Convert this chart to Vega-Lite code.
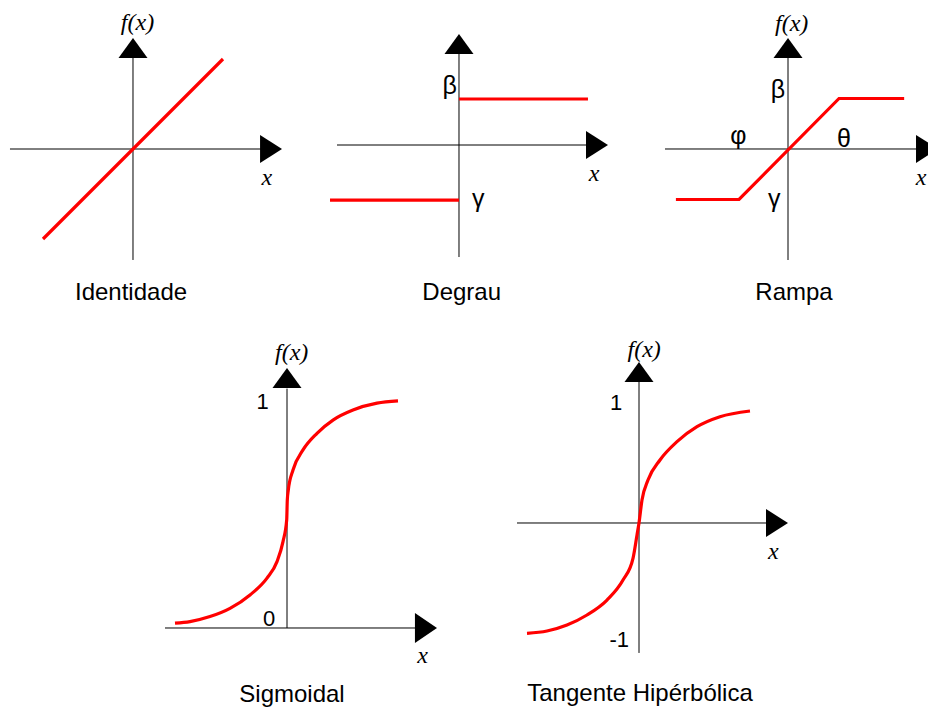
{
  "$schema": "https://vega.github.io/schema/vega-lite/v6.json",
  "background": "white",
  "padding": 0,
  "spacing": 0,
  "bounds": "full",
  "config": {"view": {"stroke": null}},
  "resolve": {"scale": {"x": "independent", "y": "independent"}},
  "datasets": {
    "identidade": [
      {"parte": "eixo", "x": -1.367, "y": 0, "x2": 1.5, "y2": 0},
      {"parte": "eixo", "x": 0, "y": -1.233, "x2": 0, "y2": 1.1},
      {"parte": "seta_x", "x": 1.656, "y": 0},
      {"parte": "seta_y", "x": 0, "y": 1.233},
      {"parte": "curva", "x": -1, "y": -1},
      {"parte": "curva", "x": 1, "y": 1},
      {"parte": "var", "texto": "f(x)", "x": 0.05, "y": 1.399},
      {"parte": "var", "texto": "x", "x": 1.486, "y": -0.32},
      {"parte": "titulo", "texto": "Identidade", "x": -0.022, "y": -1.598}
    ],
    "degrau": [
      {"parte": "eixo", "x": -2.652, "y": 0, "x2": 3.0, "y2": 0},
      {"parte": "eixo", "x": 0, "y": -2.435, "x2": 0, "y2": 2.2},
      {"parte": "seta_x", "x": 3.239, "y": 0},
      {"parte": "seta_y", "x": 0, "y": 2.413},
      {"parte": "degrau", "x": -2.804, "y": -1.2, "x2": 0, "y2": -1.2},
      {"parte": "degrau", "x": 0, "y": 1, "x2": 2.804, "y2": 1},
      {"parte": "var", "texto": "x", "x": 2.935, "y": -0.641},
      {"parte": "simbolo", "texto": "β", "x": -0.2, "y": 1.287},
      {"parte": "simbolo", "texto": "γ", "x": 0.42, "y": -1.18},
      {"parte": "titulo", "texto": "Degrau", "x": 0.058, "y": -3.213}
    ],
    "rampa": [
      {"parte": "eixo", "x": -2.436, "y": 0, "x2": 2.8, "y2": 0},
      {"parte": "eixo", "x": 0, "y": -2.198, "x2": 0, "y2": 2.0},
      {"parte": "seta_x", "x": 2.97, "y": 0},
      {"parte": "seta_y", "x": 0, "y": 2.198},
      {"parte": "curva", "x": -2.22, "y": -1},
      {"parte": "curva", "x": -0.97, "y": -1},
      {"parte": "curva", "x": 1.01, "y": 1},
      {"parte": "curva", "x": 2.3, "y": 1},
      {"parte": "var", "texto": "f(x)", "x": 0.073, "y": 2.473},
      {"parte": "var", "texto": "x", "x": 2.634, "y": -0.57},
      {"parte": "simbolo", "texto": "β", "x": -0.202, "y": 1.162},
      {"parte": "simbolo", "texto": "φ", "x": -0.984, "y": 0.261},
      {"parte": "simbolo", "texto": "θ", "x": 1.109, "y": 0.188},
      {"parte": "simbolo", "texto": "γ", "x": -0.273, "y": -0.982},
      {"parte": "titulo", "texto": "Rampa", "x": 0.119, "y": -2.848}
    ],
    "sigmoidal": [
      {"parte": "eixo", "x": -1.22, "y": 0, "x2": 1.4, "y2": 0},
      {"parte": "eixo", "x": 0, "y": 0, "x2": 0, "y2": 1.05},
      {"parte": "seta_x", "x": 1.5, "y": 0},
      {"parte": "seta_y", "x": 0, "y": 1.14},
      {"parte": "curva", "x": -1.12, "y": 0.021},
      {"parte": "curva", "x": -0.97, "y": 0.028},
      {"parte": "curva", "x": -0.77, "y": 0.05},
      {"parte": "curva", "x": -0.57, "y": 0.086},
      {"parte": "curva", "x": -0.37, "y": 0.145},
      {"parte": "curva", "x": -0.2, "y": 0.219},
      {"parte": "curva", "x": -0.1, "y": 0.291},
      {"parte": "curva", "x": -0.04, "y": 0.379},
      {"parte": "curva", "x": -0.003, "y": 0.474},
      {"parte": "curva", "x": 0.003, "y": 0.561},
      {"parte": "curva", "x": 0.013, "y": 0.605},
      {"parte": "curva", "x": 0.06, "y": 0.693},
      {"parte": "curva", "x": 0.16, "y": 0.781},
      {"parte": "curva", "x": 0.3, "y": 0.854},
      {"parte": "curva", "x": 0.46, "y": 0.912},
      {"parte": "curva", "x": 0.66, "y": 0.956},
      {"parte": "curva", "x": 0.9, "y": 0.986},
      {"parte": "curva", "x": 1.11, "y": 0.996},
      {"parte": "var", "texto": "f(x)", "x": 0.047, "y": 1.206},
      {"parte": "var", "texto": "x", "x": 1.355, "y": -0.123},
      {"parte": "numero", "texto": "1", "x": -0.245, "y": 0.991},
      {"parte": "numero", "texto": "0", "x": -0.178, "y": 0.041},
      {"parte": "titulo", "texto": "Sigmoidal", "x": 0.05, "y": -0.292}
    ],
    "tangente": [
      {"parte": "eixo", "x": -1.22, "y": 0, "x2": 1.4, "y2": 0},
      {"parte": "eixo", "x": 0, "y": -1.13, "x2": 0, "y2": 1.3},
      {"parte": "seta_x", "x": 1.49, "y": 0},
      {"parte": "seta_y", "x": 0, "y": 1.4},
      {"parte": "curva", "x": -1.12, "y": -0.959},
      {"parte": "curva", "x": -0.92, "y": -0.939},
      {"parte": "curva", "x": -0.72, "y": -0.887},
      {"parte": "curva", "x": -0.52, "y": -0.8},
      {"parte": "curva", "x": -0.32, "y": -0.67},
      {"parte": "curva", "x": -0.16, "y": -0.496},
      {"parte": "curva", "x": -0.06, "y": -0.307},
      {"parte": "curva", "x": -0.02, "y": -0.104},
      {"parte": "curva", "x": 0, "y": 0},
      {"parte": "curva", "x": 0.03, "y": 0.2},
      {"parte": "curva", "x": 0.09, "y": 0.374},
      {"parte": "curva", "x": 0.21, "y": 0.548},
      {"parte": "curva", "x": 0.38, "y": 0.707},
      {"parte": "curva", "x": 0.58, "y": 0.837},
      {"parte": "curva", "x": 0.81, "y": 0.924},
      {"parte": "curva", "x": 1.11, "y": 0.974},
      {"parte": "var", "texto": "f(x)", "x": 0.052, "y": 1.506},
      {"parte": "var", "texto": "x", "x": 1.343, "y": -0.253},
      {"parte": "numero", "texto": "1", "x": -0.229, "y": 1.046},
      {"parte": "numero", "texto": "-1", "x": -0.198, "y": -1.015},
      {"parte": "titulo", "texto": "Tangente Hipérbólica", "x": 0.01, "y": -1.491}
    ]
  },
  "vconcat": [
    {
      "spacing": 0,
      "bounds": "flush",
      "hconcat": [
        {
          "width": 310,
          "height": 320,
          "data": {"name": "identidade"},
          "encoding": {
            "x": {"field": "x", "type": "quantitative", "scale": {"domain": [-1.4778, 1.9667], "nice": false, "zero": false}, "axis": null},
            "y": {"field": "y", "type": "quantitative", "scale": {"domain": [-1.9, 1.6556], "nice": false, "zero": false}, "axis": null}
          },
          "layer": [
            {"transform": [{"filter": "datum.parte === 'eixo'"}], "mark": {"type": "rule", "color": "black", "strokeWidth": 1}, "encoding": {"x2": {"field": "x2"}, "y2": {"field": "y2"}}},
            {"transform": [{"filter": "datum.parte === 'curva'"}], "mark": {"type": "line", "color": "#ff0000", "strokeWidth": 3.2}},
            {"transform": [{"filter": "datum.parte === 'seta_x'"}], "mark": {"type": "point", "shape": "M 0 0 L -1.57 -1 L -1.57 1 Z", "size": 784, "filled": true, "color": "black", "opacity": 1, "strokeWidth": 0}},
            {"transform": [{"filter": "datum.parte === 'seta_y'"}], "mark": {"type": "point", "shape": "M 0 0 L 1 1.38 L -1 1.38 Z", "size": 841, "filled": true, "color": "black", "opacity": 1, "strokeWidth": 0}},
            {"transform": [{"filter": "datum.parte === 'var'"}], "mark": {"type": "text", "font": "Liberation Serif", "fontStyle": "italic", "fontSize": 24, "align": "center", "baseline": "middle", "color": "black"}, "encoding": {"text": {"field": "texto"}}},
            {"transform": [{"filter": "datum.parte === 'titulo'"}], "mark": {"type": "text", "font": "Liberation Sans", "fontSize": 24, "align": "center", "baseline": "middle", "color": "black"}, "encoding": {"text": {"field": "texto"}}}
          ]
        },
        {
          "width": 330,
          "height": 320,
          "data": {"name": "degrau"},
          "encoding": {
            "x": {"field": "x", "type": "quantitative", "scale": {"domain": [-3.239, 3.935], "nice": false, "zero": false}, "axis": null},
            "y": {"field": "y", "type": "quantitative", "scale": {"domain": [-3.804, 3.152], "nice": false, "zero": false}, "axis": null}
          },
          "layer": [
            {"transform": [{"filter": "datum.parte === 'eixo'"}], "mark": {"type": "rule", "color": "black", "strokeWidth": 1}, "encoding": {"x2": {"field": "x2"}, "y2": {"field": "y2"}}},
            {"transform": [{"filter": "datum.parte === 'degrau'"}], "mark": {"type": "rule", "color": "#ff0000", "strokeWidth": 3.2}, "encoding": {"x2": {"field": "x2"}, "y2": {"field": "y2"}}},
            {"transform": [{"filter": "datum.parte === 'seta_x'"}], "mark": {"type": "point", "shape": "M 0 0 L -1.57 -1 L -1.57 1 Z", "size": 784, "filled": true, "color": "black", "opacity": 1, "strokeWidth": 0}},
            {"transform": [{"filter": "datum.parte === 'seta_y'"}], "mark": {"type": "point", "shape": "M 0 0 L 1 1.38 L -1 1.38 Z", "size": 841, "filled": true, "color": "black", "opacity": 1, "strokeWidth": 0}},
            {"transform": [{"filter": "datum.parte === 'var'"}], "mark": {"type": "text", "font": "Liberation Serif", "fontStyle": "italic", "fontSize": 24, "align": "center", "baseline": "middle", "color": "black"}, "encoding": {"text": {"field": "texto"}}},
            {"transform": [{"filter": "datum.parte === 'simbolo'"}], "mark": {"type": "text", "font": "Liberation Sans", "fontSize": 25, "align": "center", "baseline": "middle", "color": "black"}, "encoding": {"text": {"field": "texto"}}},
            {"transform": [{"filter": "datum.parte === 'titulo'"}], "mark": {"type": "text", "font": "Liberation Sans", "fontSize": 24, "align": "center", "baseline": "middle", "color": "black"}, "encoding": {"text": {"field": "texto"}}}
          ]
        },
        {
          "width": 288,
          "height": 320,
          "data": {"name": "rampa"},
          "encoding": {
            "x": {"field": "x", "type": "quantitative", "scale": {"domain": [-2.931, 2.772], "nice": false, "zero": false}, "axis": null},
            "y": {"field": "y", "type": "quantitative", "scale": {"domain": [-3.386, 2.95], "nice": false, "zero": false}, "axis": null}
          },
          "layer": [
            {"transform": [{"filter": "datum.parte === 'eixo'"}], "mark": {"type": "rule", "color": "black", "strokeWidth": 1, "clip": true}, "encoding": {"x2": {"field": "x2"}, "y2": {"field": "y2"}}},
            {"transform": [{"filter": "datum.parte === 'curva'"}], "mark": {"type": "line", "color": "#ff0000", "strokeWidth": 3.2, "clip": true}},
            {"transform": [{"filter": "datum.parte === 'seta_x'"}], "mark": {"type": "point", "shape": "M 0 0 L -1.57 -1 L -1.57 1 Z", "size": 784, "filled": true, "color": "black", "opacity": 1, "strokeWidth": 0, "clip": true}},
            {"transform": [{"filter": "datum.parte === 'seta_y'"}], "mark": {"type": "point", "shape": "M 0 0 L 1 1.38 L -1 1.38 Z", "size": 841, "filled": true, "color": "black", "opacity": 1, "strokeWidth": 0, "clip": true}},
            {"transform": [{"filter": "datum.parte === 'var'"}], "mark": {"type": "text", "font": "Liberation Serif", "fontStyle": "italic", "fontSize": 24, "align": "center", "baseline": "middle", "color": "black", "clip": true}, "encoding": {"text": {"field": "texto"}}},
            {"transform": [{"filter": "datum.parte === 'simbolo'"}], "mark": {"type": "text", "font": "Liberation Sans", "fontSize": 25, "align": "center", "baseline": "middle", "color": "black", "clip": true}, "encoding": {"text": {"field": "texto"}}},
            {"transform": [{"filter": "datum.parte === 'titulo'"}], "mark": {"type": "text", "font": "Liberation Sans", "fontSize": 24, "align": "center", "baseline": "middle", "color": "black", "clip": true}, "encoding": {"text": {"field": "texto"}}}
          ]
        }
      ]
    },
    {
      "spacing": 0,
      "bounds": "flush",
      "hconcat": [
        {
          "width": 464,
          "height": 389,
          "data": {"name": "sigmoidal"},
          "encoding": {
            "x": {"field": "x", "type": "quantitative", "scale": {"domain": [-2.87, 1.77], "nice": false, "zero": false}, "axis": null},
            "y": {"field": "y", "type": "quantitative", "scale": {"domain": [-0.3553, 1.3509], "nice": false, "zero": false}, "axis": null}
          },
          "layer": [
            {"transform": [{"filter": "datum.parte === 'eixo'"}], "mark": {"type": "rule", "color": "black", "strokeWidth": 1}, "encoding": {"x2": {"field": "x2"}, "y2": {"field": "y2"}}},
            {"transform": [{"filter": "datum.parte === 'curva'"}], "mark": {"type": "line", "color": "#ff0000", "strokeWidth": 3.2, "interpolate": "monotone"}},
            {"transform": [{"filter": "datum.parte === 'seta_x'"}], "mark": {"type": "point", "shape": "M 0 0 L -1.47 -1 L -1.47 1 Z", "size": 900, "filled": true, "color": "black", "opacity": 1, "strokeWidth": 0}},
            {"transform": [{"filter": "datum.parte === 'seta_y'"}], "mark": {"type": "point", "shape": "M 0 0 L 1 1.38 L -1 1.38 Z", "size": 841, "filled": true, "color": "black", "opacity": 1, "strokeWidth": 0}},
            {"transform": [{"filter": "datum.parte === 'var'"}], "mark": {"type": "text", "font": "Liberation Serif", "fontStyle": "italic", "fontSize": 24, "align": "center", "baseline": "middle", "color": "black"}, "encoding": {"text": {"field": "texto"}}},
            {"transform": [{"filter": "datum.parte === 'numero'"}], "mark": {"type": "text", "font": "Liberation Sans", "fontSize": 22, "align": "center", "baseline": "middle", "color": "black"}, "encoding": {"text": {"field": "texto"}}},
            {"transform": [{"filter": "datum.parte === 'titulo'"}], "mark": {"type": "text", "font": "Liberation Sans", "fontSize": 24, "align": "center", "baseline": "middle", "color": "black"}, "encoding": {"text": {"field": "texto"}}}
          ]
        },
        {
          "width": 464,
          "height": 389,
          "data": {"name": "tangente"},
          "encoding": {
            "x": {"field": "x", "type": "quantitative", "scale": {"domain": [-1.75, 2.89], "nice": false, "zero": false}, "axis": null},
            "y": {"field": "y", "type": "quantitative", "scale": {"domain": [-1.6174, 1.7652], "nice": false, "zero": false}, "axis": null}
          },
          "layer": [
            {"transform": [{"filter": "datum.parte === 'eixo'"}], "mark": {"type": "rule", "color": "black", "strokeWidth": 1}, "encoding": {"x2": {"field": "x2"}, "y2": {"field": "y2"}}},
            {"transform": [{"filter": "datum.parte === 'curva'"}], "mark": {"type": "line", "color": "#ff0000", "strokeWidth": 3.2, "interpolate": "monotone"}},
            {"transform": [{"filter": "datum.parte === 'seta_x'"}], "mark": {"type": "point", "shape": "M 0 0 L -1.57 -1 L -1.57 1 Z", "size": 784, "filled": true, "color": "black", "opacity": 1, "strokeWidth": 0}},
            {"transform": [{"filter": "datum.parte === 'seta_y'"}], "mark": {"type": "point", "shape": "M 0 0 L 1 1.38 L -1 1.38 Z", "size": 841, "filled": true, "color": "black", "opacity": 1, "strokeWidth": 0}},
            {"transform": [{"filter": "datum.parte === 'var'"}], "mark": {"type": "text", "font": "Liberation Serif", "fontStyle": "italic", "fontSize": 24, "align": "center", "baseline": "middle", "color": "black"}, "encoding": {"text": {"field": "texto"}}},
            {"transform": [{"filter": "datum.parte === 'numero'"}], "mark": {"type": "text", "font": "Liberation Sans", "fontSize": 22, "align": "center", "baseline": "middle", "color": "black"}, "encoding": {"text": {"field": "texto"}}},
            {"transform": [{"filter": "datum.parte === 'titulo'"}], "mark": {"type": "text", "font": "Liberation Sans", "fontSize": 24, "align": "center", "baseline": "middle", "color": "black"}, "encoding": {"text": {"field": "texto"}}}
          ]
        }
      ]
    }
  ]
}
